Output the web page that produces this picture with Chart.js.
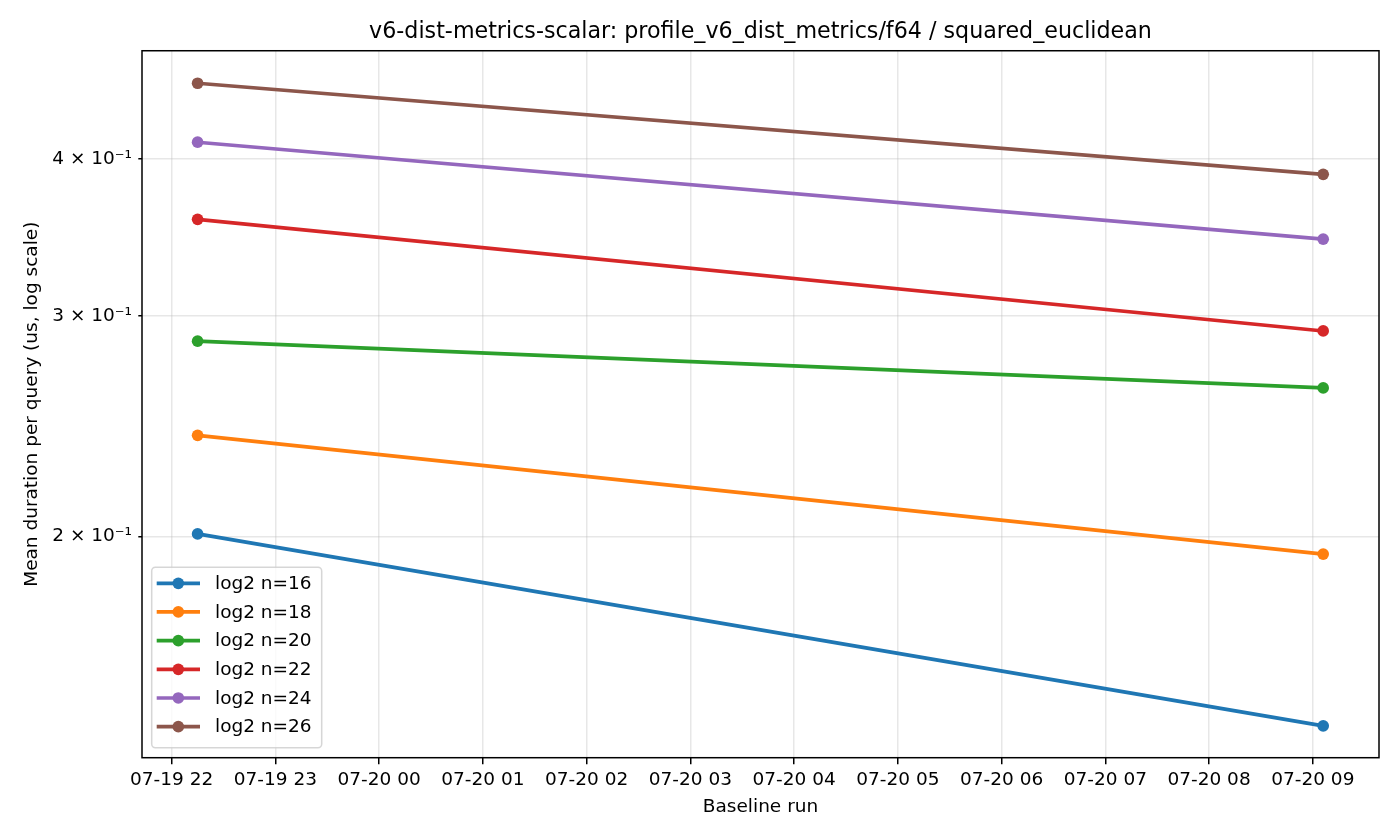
<!DOCTYPE html>
<html>
<head>
<meta charset="utf-8">
<script src="https://cdn.jsdelivr.net/npm/chart.js@4.4.1/dist/chart.umd.min.js"></script>
<style>
  html, body { margin: 0; padding: 0; background: #fff; }
  #wrap { width: 1400px; height: 840px; position: relative; }
</style>
</head>
<body>
<div id="wrap"><canvas id="chart"></canvas></div>
<script>
// run times, as hours since 07-19 00:00 (07-19 22:15 and 07-20 09:06)
const runHours = [22.25, 33.1];

// mean duration per query (us)
const seriesLabels = ["log2 n=16", "log2 n=18", "log2 n=20", "log2 n=22", "log2 n=24", "log2 n=26"];
const n16 = [0.2010, 0.1413];
const n18 = [0.2409, 0.1937];
const n20 = [0.2864, 0.2628];
const n22 = [0.3582, 0.2918];
const n24 = [0.4127, 0.3454];
const n26 = [0.4599, 0.3891];
const seriesColors = ["#1f77b4", "#ff7f0e", "#2ca02c", "#d62728", "#9467bd", "#8c564b"];

// ticks
const xTickHours = [22, 23, 24, 25, 26, 27, 28, 29, 30, 31, 32, 33];
const xTickLabels = ["07-19 22", "07-19 23", "07-20 00", "07-20 01", "07-20 02", "07-20 03",
                     "07-20 04", "07-20 05", "07-20 06", "07-20 07", "07-20 08", "07-20 09"];
const yTicks = [0.2, 0.3, 0.4];
const yTickLabels = ["2 × 10⁻¹", "3 × 10⁻¹", "4 × 10⁻¹"];

const FONT = "'DejaVu Sans', sans-serif";
const gridColor = "rgba(176,176,176,0.3)";

const allSeries = [n16, n18, n20, n22, n24, n26];
const datasets = allSeries.map((vals, i) => ({
    label: seriesLabels[i],
    data: vals.map((v, j) => ({ x: runHours[j], y: v })),
    borderColor: seriesColors[i],
    backgroundColor: seriesColors[i],
    pointBackgroundColor: seriesColors[i],
    pointBorderColor: seriesColors[i],
    pointBorderWidth: 0,
    pointRadius: 5.85,
    borderWidth: 3.7,
    tension: 0,
    fill: false,
}));

// frame around the plot area + matplotlib-like legend box (lower left)
const framePlugin = {
    id: "frameAndLegend",
    afterDraw(chart) {
        const { ctx, chartArea: a } = chart;
        ctx.save();
        ctx.strokeStyle = "#000";
        ctx.lineWidth = 1.5;
        ctx.strokeRect(a.left, a.top, a.right - a.left, a.bottom - a.top);

        const bx = a.left + 9.7, bw = 170, bh = 180.4;
        const by = a.bottom - 10 - bh;
        ctx.beginPath();
        ctx.roundRect(bx, by, bw, bh, 3.7);
        ctx.fillStyle = "rgba(255,255,255,0.8)";
        ctx.fill();
        ctx.strokeStyle = "rgba(204,204,204,0.8)";
        ctx.lineWidth = 1.5;
        ctx.stroke();

        ctx.font = "18.5px " + FONT;
        ctx.textBaseline = "middle";
        ctx.textAlign = "left";
        chart.data.datasets.forEach((ds, i) => {
            const y = by + 16 + i * 28.67;
            ctx.strokeStyle = ds.borderColor;
            ctx.lineWidth = 3.7;
            ctx.beginPath();
            ctx.moveTo(bx + 5, y);
            ctx.lineTo(bx + 48.3, y);
            ctx.stroke();
            ctx.fillStyle = ds.borderColor;
            ctx.beginPath();
            ctx.arc(bx + 26.6, y, 5.85, 0, Math.PI * 2);
            ctx.fill();
            ctx.fillStyle = "#000";
            ctx.fillText(ds.label, bx + 63.3, y + 1);
        });
        ctx.restore();
    }
};

new Chart(document.getElementById("chart"), {
    type: "line",
    data: { datasets },
    plugins: [framePlugin],
    options: {
        responsive: true,
        maintainAspectRatio: false,
        animation: false,
        layout: { padding: { left: 0, right: 21, top: 0, bottom: 0 } },
        plugins: {
            legend: { display: false },
            tooltip: { enabled: false },
            title: {
                display: true,
                fullSize: false,
                text: "v6-dist-metrics-scalar: profile_v6_dist_metrics/f64 / squared_euclidean",
                color: "#000",
                font: { family: FONT, size: 22.2, weight: "normal" },
                padding: { top: 19.1, bottom: 5 },
            },
        },
        scales: {
            x: {
                type: "linear",
                min: 21.714,
                max: 33.638,
                afterBuildTicks: (scale) => {
                    scale.ticks = xTickHours.map(v => ({ value: v }));
                },
                afterFit: (scale) => { scale.height = 82.3; },
                ticks: {
                    autoSkip: false,
                    maxRotation: 0,
                    color: "#000",
                    padding: 4.5,
                    font: { family: FONT, size: 18.5 },
                    callback: (v) => xTickLabels[xTickHours.indexOf(v)],
                },
                grid: {
                    color: gridColor,
                    lineWidth: 1.5,
                    drawTicks: true,
                    tickLength: 6.5,
                    tickColor: "#000",
                    tickWidth: 1.5,
                },
                border: { display: false },
                title: {
                    display: true,
                    text: "Baseline run",
                    color: "#000",
                    font: { family: FONT, size: 18.5 },
                    padding: { top: 0, bottom: 21.9 },
                },
            },
            y: {
                type: "logarithmic",
                min: 0.13327,
                max: 0.4882,
                afterBuildTicks: (scale) => {
                    scale.ticks = yTicks.map(v => ({ value: v }));
                },
                afterFit: (scale) => { scale.width = 142; },
                ticks: {
                    color: "#000",
                    padding: 6.3,
                    font: { family: FONT, size: 18.5 },
                    callback: (v) => yTickLabels[yTicks.indexOf(v)],
                },
                grid: {
                    color: gridColor,
                    lineWidth: 1.5,
                    drawTicks: true,
                    tickLength: 3.7,
                    tickColor: "#000",
                    tickWidth: 1.5,
                },
                border: { display: false },
                title: {
                    display: true,
                    text: "Mean duration per query (us, log scale)",
                    color: "#000",
                    font: { family: FONT, size: 18.5 },
                    padding: { top: 20.9, bottom: 0 },
                },
            },
        },
    },
});
</script>
</body>
</html>
